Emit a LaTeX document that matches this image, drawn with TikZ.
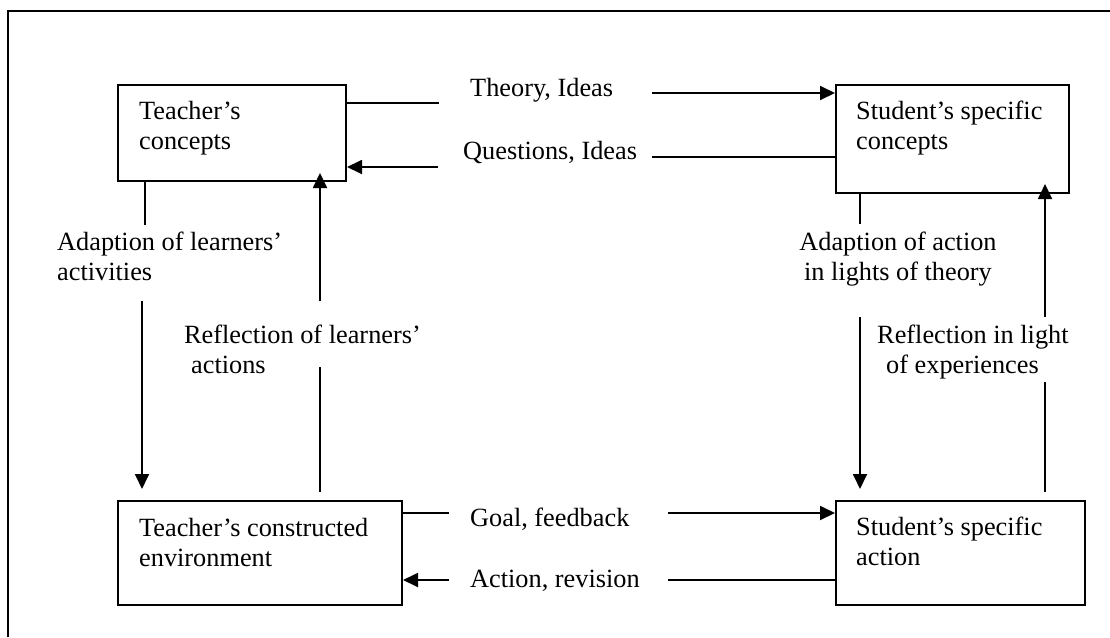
\documentclass[tikz,border=0pt]{standalone}
\usepackage{fontspec}
\setmainfont{Liberation Serif}
\usetikzlibrary{arrows.meta}
\begin{document}
\begin{tikzpicture}[x=1pt,y=-1pt,
  box/.style={draw,line width=2pt,rectangle,inner sep=0pt},
  lbl/.style={anchor=north west,inner sep=0pt,align=left,font=\fontsize{26.3}{30.5}\selectfont},
  clbl/.style={anchor=north,inner sep=0pt,align=center,font=\fontsize{26.3}{30.5}\selectfont},
  conn/.style={line width=1.8pt},
  arr/.style={line width=1.8pt,-{Triangle[length=15pt,width=14pt]}}]
\useasboundingbox (0,0) rectangle (1110,637);
% frame
\draw[line width=2.2pt] (8,637) -- (8,11) -- (1110,11);
% boxes
\node[box,minimum width=228pt,minimum height=96pt] (tc) at (232,133) {};
\node[box,minimum width=233pt,minimum height=108pt] (sc) at (952.5,139) {};
\node[box,minimum width=284pt,minimum height=104pt] (te) at (260,553) {};
\node[box,minimum width=249pt,minimum height=104pt] (sa) at (960.5,553) {};
% box texts (top = baseline - 21.35)
\node[lbl] (tct) at (139,97.65) {\strut Teacher’s\\concepts};
\node[lbl] (sct) at (856,97.65) {\strut Student’s specific\\concepts};
\node[lbl] (tet) at (139,514.65) {\strut Teacher’s constructed\\environment};
\node[lbl] (sat) at (856,513.65) {\strut Student’s specific\\action};
% connector labels
\node[lbl] (theory) at (470,74.65) {\strut Theory, Ideas};
\node[lbl] (quest) at (463,137.65) {\strut Questions, Ideas};
\node[lbl] (goal) at (470,504.65) {\strut Goal, feedback};
\node[lbl] (action) at (470,565.65) {\strut Action, revision};
\node[lbl] (adl) at (57,228.65) {\strut Adaption of learners’\\activities};
\node[lbl] (rfl) at (184,321.65) {\strut Reflection of learners’\\\hspace*{7pt}actions};
\node[clbl] (ada) at (898,228.65) {\strut Adaption of action\\in lights of theory};
\node[lbl] (rfe) at (877,321.65) {\strut Reflection in light\\\hspace*{9pt}of experiences};
% free ends
\coordinate (t1) at (439,103);
\coordinate (t2) at (652,93);
\coordinate (q1) at (652,157);
\coordinate (q2) at (438,167);
\coordinate (g1) at (449,513);
\coordinate (g2) at (668,513);
\coordinate (a1) at (668,580);
\coordinate (a2) at (449,580);
\coordinate (l1) at (145,225);
\coordinate (l2) at (142,301);
\coordinate (r1) at (320,367);
\coordinate (r2) at (320,492);
\coordinate (r3) at (320,301);
\coordinate (s1) at (860,224);
\coordinate (s2) at (860,317);
\coordinate (u1) at (1045,492);
\coordinate (u2) at (1045,382);
\coordinate (u3) at (1045,317);
% horizontal connectors
\draw[conn] (t1 -| tc.east) -- (t1);
\draw[arr] (t2) -- (t2 -| sc.west);
\draw[conn] (q1 -| sc.west) -- (q1);
\draw[arr] (q2) -- (q2 -| tc.east);
\draw[conn] (g1 -| te.east) -- (g1);
\draw[arr] (g2) -- (g2 -| sa.west);
\draw[conn] (a1 -| sa.west) -- (a1);
\draw[arr] (a2) -- (a2 -| te.east);
% vertical connectors
\draw[conn] (l1 |- tc.south) -- (l1);
\draw[arr,shorten >=11pt] (l2) -- (l2 |- te.north);
\draw[conn] (r1) -- (r2);
\draw[arr,shorten >=-9pt] (r3) -- (r3 |- tc.south);
\draw[conn] (s1 |- sc.south) -- (s1);
\draw[arr,shorten >=11pt] (s2) -- (s2 |- sa.north);
\draw[conn] (u1) -- (u2);
\draw[arr,shorten >=-10pt] (u3) -- (u3 |- sc.south);
\end{tikzpicture}
\end{document}
